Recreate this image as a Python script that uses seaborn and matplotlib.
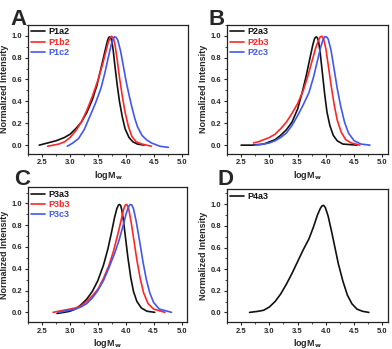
import numpy as np
import pandas as pd
import seaborn as sns
import matplotlib.pyplot as plt
from matplotlib.ticker import MultipleLocator, AutoMinorLocator

# ---- data (logMw, normalized intensity) ----
p1a2_x = [2.45, 2.6, 2.75, 2.9, 3.0, 3.1, 3.2, 3.3, 3.4, 3.48, 3.55, 3.6, 3.64, 3.67, 3.69, 3.71, 3.73, 3.75, 3.77, 3.80, 3.84, 3.88, 3.93, 3.98, 4.05, 4.12, 4.2, 4.32]
p1a2_y = [0.00, 0.02, 0.04, 0.07, 0.10, 0.15, 0.21, 0.30, 0.42, 0.55, 0.70, 0.81, 0.90, 0.96, 0.985, 0.99, 0.975, 0.93, 0.86, 0.72, 0.55, 0.40, 0.26, 0.15, 0.07, 0.03, 0.01, 0.00]
p1b2_x = [2.6, 2.7, 2.8, 2.9, 3.0, 3.1, 3.2, 3.3, 3.4, 3.5, 3.58, 3.64, 3.68, 3.71, 3.74, 3.77, 3.80, 3.84, 3.88, 3.93, 3.98, 4.04, 4.1, 4.18, 4.28, 4.45]
p1b2_y = [-0.01, 0.00, 0.01, 0.03, 0.07, 0.13, 0.21, 0.32, 0.45, 0.60, 0.74, 0.86, 0.94, 0.98, 0.995, 0.98, 0.92, 0.78, 0.62, 0.45, 0.30, 0.17, 0.08, 0.03, 0.01, -0.01]
p1c2_x = [2.95, 3.05, 3.15, 3.25, 3.35, 3.45, 3.55, 3.62, 3.68, 3.73, 3.76, 3.79, 3.82, 3.85, 3.9, 3.95, 4.0, 4.05, 4.1, 4.15, 4.2, 4.28, 4.36, 4.45, 4.6, 4.75]
p1c2_y = [-0.01, 0.02, 0.06, 0.14, 0.26, 0.38, 0.52, 0.66, 0.80, 0.91, 0.965, 0.99, 0.985, 0.96, 0.86, 0.72, 0.58, 0.46, 0.35, 0.25, 0.17, 0.09, 0.05, 0.02, -0.01, -0.02]

p2a3_x = [2.5, 2.7, 2.9, 3.0, 3.1, 3.2, 3.3, 3.4, 3.5, 3.58, 3.65, 3.72, 3.77, 3.80, 3.83, 3.85, 3.87, 3.90, 3.94, 3.98, 4.02, 4.07, 4.13, 4.2, 4.3, 4.55]
p2a3_y = [0.0, 0.0, 0.01, 0.03, 0.05, 0.09, 0.14, 0.21, 0.33, 0.48, 0.63, 0.80, 0.92, 0.975, 0.99, 0.98, 0.95, 0.84, 0.65, 0.46, 0.30, 0.18, 0.09, 0.04, 0.01, 0.0]
p2b3_x = [2.72, 2.8, 2.9, 3.0, 3.1, 3.2, 3.3, 3.4, 3.5, 3.6, 3.68, 3.75, 3.82, 3.87, 3.90, 3.93, 3.96, 4.0, 4.05, 4.1, 4.15, 4.2, 4.27, 4.35, 4.45, 4.6]
p2b3_y = [0.02, 0.03, 0.05, 0.07, 0.10, 0.15, 0.21, 0.29, 0.38, 0.50, 0.63, 0.76, 0.89, 0.96, 0.99, 0.995, 0.97, 0.88, 0.70, 0.52, 0.36, 0.23, 0.12, 0.05, 0.02, 0.0]
p2c3_x = [2.75, 2.9, 3.0, 3.1, 3.2, 3.3, 3.4, 3.5, 3.6, 3.7, 3.78, 3.85, 3.91, 3.95, 3.98, 4.01, 4.04, 4.09, 4.15, 4.2, 4.26, 4.33, 4.4, 4.5, 4.62, 4.78]
p2c3_y = [0.0, 0.01, 0.02, 0.04, 0.07, 0.11, 0.18, 0.27, 0.37, 0.48, 0.62, 0.77, 0.90, 0.965, 0.99, 0.99, 0.97, 0.87, 0.68, 0.52, 0.36, 0.21, 0.11, 0.04, 0.01, 0.0]

p3a3_x = [2.77, 2.9, 3.0, 3.1, 3.2, 3.3, 3.4, 3.5, 3.6, 3.68, 3.74, 3.8, 3.84, 3.87, 3.89, 3.91, 3.93, 3.96, 4.0, 4.04, 4.09, 4.14, 4.2, 4.28, 4.38, 4.52]
p3a3_y = [-0.01, 0.0, 0.01, 0.03, 0.07, 0.12, 0.19, 0.29, 0.43, 0.58, 0.72, 0.87, 0.95, 0.985, 0.99, 0.98, 0.94, 0.84, 0.67, 0.50, 0.32, 0.19, 0.10, 0.04, 0.01, 0.0]
p3b3_x = [2.7, 2.8, 2.9, 3.0, 3.1, 3.2, 3.3, 3.4, 3.5, 3.6, 3.7, 3.78, 3.86, 3.92, 3.96, 3.99, 4.02, 4.05, 4.1, 4.15, 4.2, 4.26, 4.32, 4.4, 4.5, 4.7]
p3b3_y = [0.0, 0.01, 0.02, 0.03, 0.04, 0.06, 0.10, 0.15, 0.21, 0.31, 0.43, 0.56, 0.72, 0.85, 0.94, 0.985, 0.99, 0.96, 0.82, 0.65, 0.48, 0.31, 0.18, 0.08, 0.03, 0.0]
p3c3_x = [2.8, 2.9, 3.0, 3.1, 3.2, 3.3, 3.4, 3.5, 3.6, 3.7, 3.8, 3.88, 3.95, 4.01, 4.05, 4.08, 4.11, 4.14, 4.19, 4.25, 4.31, 4.37, 4.43, 4.5, 4.6, 4.82]
p3c3_y = [0.0, 0.01, 0.02, 0.03, 0.05, 0.08, 0.13, 0.20, 0.29, 0.41, 0.54, 0.66, 0.79, 0.91, 0.97, 0.99, 0.985, 0.95, 0.83, 0.65, 0.46, 0.30, 0.18, 0.09, 0.03, 0.0]

p4a3_x = [2.65, 2.8, 2.9, 3.0, 3.1, 3.2, 3.3, 3.4, 3.5, 3.6, 3.7, 3.78, 3.85, 3.9, 3.93, 3.96, 3.99, 4.04, 4.1, 4.16, 4.22, 4.3, 4.38, 4.46, 4.55, 4.65, 4.76]
p4a3_y = [0.0, 0.01, 0.02, 0.05, 0.10, 0.17, 0.26, 0.36, 0.47, 0.58, 0.68, 0.79, 0.90, 0.96, 0.985, 0.99, 0.97, 0.89, 0.75, 0.60, 0.45, 0.29, 0.16, 0.08, 0.03, 0.01, 0.0]

BLACK, RED, BLUE = "#111111", "#ff2626", "#4157f2"

panels = [
    ("A", [("P1a2", p1a2_x, p1a2_y, BLACK), ("P1b2", p1b2_x, p1b2_y, RED), ("P1c2", p1c2_x, p1c2_y, BLUE)]),
    ("B", [("P2a3", p2a3_x, p2a3_y, BLACK), ("P2b3", p2b3_x, p2b3_y, RED), ("P2c3", p2c3_x, p2c3_y, BLUE)]),
    ("C", [("P3a3", p3a3_x, p3a3_y, BLACK), ("P3b3", p3b3_x, p3b3_y, RED), ("P3c3", p3c3_x, p3c3_y, BLUE)]),
    ("D", [("P4a3", p4a3_x, p4a3_y, BLACK)]),
]

# axes rectangles in figure fraction
rects = {
    "A": [0.0714, 0.559, 0.408, 0.370],
    "B": [0.579, 0.559, 0.411, 0.370],
    "C": [0.0714, 0.077, 0.406, 0.387],
    "D": [0.579, 0.077, 0.411, 0.381],
}
ylims = {"A": (-0.08, 1.1), "B": (-0.08, 1.1), "C": (-0.09, 1.15), "D": (-0.09, 1.14)}
letter_pos = {"A": (0.026, 0.929), "B": (0.533, 0.929), "C": (0.036, 0.47), "D": (0.556, 0.47)}

sns.set_style("ticks")
plt.rcParams["font.family"] = ["Liberation Sans", "DejaVu Sans"]
plt.rcParams["font.weight"] = "bold"

fig = plt.figure(figsize=(3.92, 3.49), dpi=100)

for name, series in panels:
    ax = fig.add_axes(rects[name])
    df = pd.concat(
        [pd.DataFrame({"logMw": x, "intensity": y, "sample": lab}) for lab, x, y, _ in series],
        ignore_index=True,
    )
    palette = {lab: c for lab, _, _, c in series}
    sns.lineplot(data=df, x="logMw", y="intensity", hue="sample", palette=palette,
                 estimator=None, sort=False, linewidth=1.2, ax=ax)

    ax.set_xlim(2.25, 5.1)
    ax.set_ylim(*ylims[name])
    ax.xaxis.set_major_locator(MultipleLocator(0.5))
    ax.xaxis.set_minor_locator(AutoMinorLocator(2))
    ax.yaxis.set_major_locator(MultipleLocator(0.2))
    ax.yaxis.set_minor_locator(AutoMinorLocator(2))
    ax.tick_params(which="major", direction="out", length=2.5, width=0.8, labelsize=5.5, pad=1.5)
    ax.tick_params(which="minor", direction="out", length=1.5, width=0.6)
    for lbl in ax.get_xticklabels() + ax.get_yticklabels():
        lbl.set_fontweight("bold")
    for sp in ax.spines.values():
        sp.set_visible(True)
        sp.set_linewidth(0.9)
        sp.set_color("#222222")

    ax.set_xlabel("logM$_\\mathbf{w}$", fontsize=6.5, fontweight="bold", labelpad=1.5)
    ax.set_ylabel("Normalized Intensity", fontsize=6.5, fontweight="bold", labelpad=2)

    leg = ax.legend(loc="upper left", frameon=False, fontsize=6.5, handlelength=1.6,
                    handletextpad=0.4, labelspacing=0.15, borderaxespad=0.2,
                    borderpad=0.1, labelcolor="linecolor")
    for t in leg.get_texts():
        t.set_fontweight("bold")

    fig.text(*letter_pos[name], name, fontsize=16, fontweight="bold", va="baseline", ha="left")

fig.savefig("out.png", dpi=100)
